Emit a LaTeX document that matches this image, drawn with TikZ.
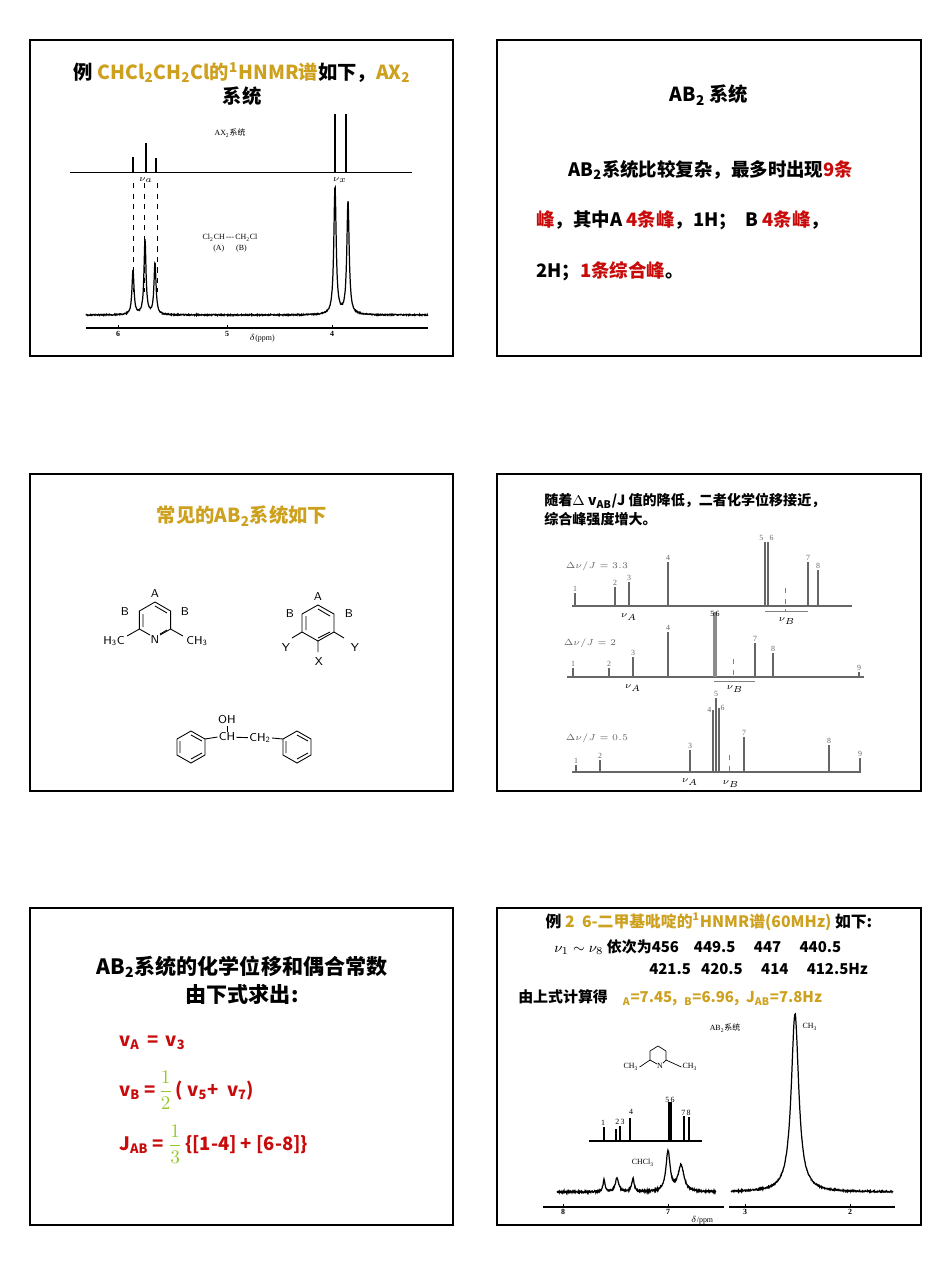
\documentclass[tikz,border=0pt]{standalone}
\usepackage{fontspec}
\setmainfont{Noto Sans CJK SC}
\newfontfamily\serifsmall{Liberation Serif}
\newfontfamily\cjk{Noto Sans CJK SC}
\usetikzlibrary{positioning}
\definecolor{gold}{RGB}{205,160,30}
\definecolor{slidered}{RGB}{200,10,10}
\definecolor{fracgreen}{RGB}{150,200,40}
\tikzset{
  frame/.style={draw, line width=1.2pt},
  title/.style={font=\fontsize{11}{14}\selectfont\bfseries, align=center},
  body/.style={font=\fontsize{10.5}{13}\selectfont\bfseries, anchor=west},
  tiny/.style={font=\serifsmall\fontsize{4.5}{5}\selectfont, inner sep=0.5pt},
  chem/.style={font=\sffamily\fontsize{6.5}{7}\selectfont, inner sep=0.5pt},
  stick/.style={line width=0.6pt},
  graystick/.style={line width=0.8pt, black!60},
  declare function={lor(\x,\c,\h,\w)=\h*\w*\w/((\x-\c)^2+\w*\w);}
}
\begin{document}
\begin{tikzpicture}[x=0.02cm, y=-0.02cm, line width=0.5pt]
\useasboundingbox (0,0) rectangle (950,1265);

% FRAMES
\draw[frame] (30,40) rectangle (453,356);
\draw[frame] (497,40) rectangle (921,356);
\draw[frame] (30,474) rectangle (453,791);
\draw[frame] (497,474) rectangle (921,791);
\draw[frame] (30,908) rectangle (453,1225);
\draw[frame] (497,908) rectangle (921,1225);

% PANEL 1: AX2 spectrum
\node (ttlA) [title] at (242,84) {例\ \textcolor{gold}{CHCl\textsubscript{2}CH\textsubscript{2}Cl的\textsuperscript{1}HNMR谱}如下，\textcolor{gold}{AX\textsubscript{2}}\\系统};
\draw (70,172) -- (412,172);
\foreach \x/\t in {133/157, 146/143, 156/158, 335/114, 346/114}
  \draw[stick] (\x,172) -- (\x,\t);
\node (axlab) [tiny] at (230,133) {AX\textsubscript{2}{\cjk 系统}};
\node (nua) [tiny] at (146,180) {$\nu_a$};
\node (nux) [tiny] at (340,180) {$\nu_x$};
\foreach \x in {133,144,157}
  \draw[dashed, line width=0.4pt] (\x,183) -- (\x,292);
\node (molA) [tiny] at (230,238) {Cl\textsubscript{2}CH\,---\,CH\textsubscript{2}Cl};
\node (molB) [tiny] at (230,249) {(A)\quad\ \ (B)};
\draw[line width=0.7pt] plot[domain=8.6:42.8, samples=900]
  ({10*\x},{315+0.6*rand-lor(\x,13.3,45,0.12)-lor(\x,14.5,75,0.12)-lor(\x,15.5,52,0.12)-lor(\x,33.5,128,0.14)-lor(\x,34.8,113,0.14)});
\draw[line width=0.8pt] (86,328) -- (428,328);
\foreach \x/\l in {118/6, 227/5, 332/4}
  \draw (\x,325) -- (\x,328) node[tiny, below=1pt] {\bfseries\l};
\node (ppmA) [tiny] at (262,338) {$\delta$(ppm)};

% PANEL 2: AB2 text
\node (ttlB) [title] at (709,95) {AB\textsubscript{2} 系统};
\node (lineA) [body] at (562,170) {AB\textsubscript{2}系统比较复杂，最多时出现\textcolor{slidered}{9条}};
\node (lineB) [body] at (530,220) {\textcolor{slidered}{峰}，其中A \textcolor{slidered}{4条峰}，1H；\ \ B \textcolor{slidered}{4条峰}，};
\node (lineC) [body] at (530,271) {2H；\textcolor{slidered}{1条综合峰}。};

% PANEL 3: common AB2 systems
\node (ttlC) [title, text=gold] at (242,516) {常见的AB\textsubscript{2}系统如下};
% pyridine
\draw (150,635) -- (139.4,629) -- (139.4,611) -- (155,602) -- (170.6,611) -- (170.6,629) -- (160,635);
\draw (155,606) -- (167,613) (143,614) -- (143,627) (167,630) -- (160,634);
\node (pyN) [chem] at (155,640) {N};
\draw (139.4,629) -- (127,636);
\draw (170.6,629) -- (183,636);
\node (pyL) [chem] at (114,641) {H\textsubscript{3}C};
\node (pyR) [chem] at (197,641) {CH\textsubscript{3}};
\node (pyA) [chem] at (155,594) {A};
\node (pyB1) [chem] at (125,612) {B};
\node (pyB2) [chem] at (185,612) {B};
% benzene
\draw (318,605) -- (334,614) -- (334,632) -- (318,641) -- (302,632) -- (302,614) -- cycle;
\draw (318,609) -- (330,616) (306,616) -- (306,630) (330,632) -- (318,638);
\draw (302,632) -- (292,638) (334,632) -- (344,638) (318,641) -- (318,652);
\node (bzA) [chem] at (318,597) {A};
\node (bzB1) [chem] at (290,614) {B};
\node (bzB2) [chem] at (349,614) {B};
\node (bzY1) [chem] at (286,648) {Y};
\node (bzY2) [chem] at (355,648) {Y};
\node (bzX) [chem] at (319,662) {X};
% bibenzyl alcohol
\foreach \cx in {191,297} {
  \draw (\cx,731) -- (\cx+14,739) -- (\cx+14,755) -- (\cx,763) -- (\cx-14,755) -- (\cx-14,739) -- cycle;
  \draw (\cx,735) -- (\cx+11,741) (\cx-11,741) -- (\cx-11,753) (\cx+11,753) -- (\cx,759);
}
\node (ohOH) [chem] at (227,720) {OH};
\node (ohCH) [chem] at (227,737) {CH};
\node (ohCH2) [chem] at (260,738) {CH\textsubscript{2}};
\draw (ohOH) -- (ohCH);
\draw (205,739) -- (ohCH.west);
\draw (ohCH) -- (ohCH2);
\draw (ohCH2.east) -- (283,739);

% PANEL 4: stick spectra
\node (ttlD) [font=\fontsize{8}{11}\selectfont\bfseries, align=left, anchor=north west] at (538,487)
  {随着$\Delta$ \textit{v}\textsubscript{AB}/\textit{J} 值的降低，二者化学位移接近，\\综合峰强度增大。};
% row 1
\draw[graystick] (572,606) -- (852,606);
\foreach \x/\t/\l in {575/593/1, 615/587/2, 629/582/3, 668/562/4, 808/562/7, 818/570/8}
  \draw[graystick] (\x,606) -- (\x,\t) node[tiny, above] {\l};
\draw[graystick] (765,606) -- (765,542) node[tiny, above left=0pt] {5};
\draw[graystick] (768,606) -- (768,542) node[tiny, above right=0pt] {6};
\draw[dashed, black!50] (785,588) -- (785,611);
\draw[black!50, line width=0.3pt] (765,611) -- (808,611);
\node (r1a) [tiny] at (629,617) {$\nu_A$};
\node (r1b) [tiny] at (787,621) {$\nu_B$};
\node (r1j) [tiny, text=black!60] at (597,566) {$\Delta\nu/J=3.3$};
% row 2
\draw[graystick] (567,677) -- (864,677);
\foreach \x/\t/\l in {573/668/1, 609/668/2, 633/657/3, 668/632/4, 755/643/7, 773/653/8, 859/672/9}
  \draw[graystick] (\x,677) -- (\x,\t) node[tiny, above] {\l};
\draw[line width=2.5pt, black!45] (715,677) -- (715,612);
\node (r2n) [tiny] at (715,614) {5\,6};
\draw[dashed, black!50] (733,659) -- (733,680);
\draw[black!50, line width=0.3pt] (714,681) -- (755,681);
\node (r2a) [tiny] at (633,688) {$\nu_A$};
\node (r2b) [tiny] at (735,689) {$\nu_B$};
\node (r2j) [tiny, text=black!60] at (590,643) {$\Delta\nu/J=2$};
% row 3
\draw[graystick] (572,772) -- (861,772);
\foreach \x/\t/\l in {576/765/1, 600/760/2, 690/750/3, 744/737/7, 829/745/8, 860/758/9}
  \draw[graystick] (\x,772) -- (\x,\t) node[tiny, above] {\l};
\draw[graystick] (713,772) -- (713,710) node[tiny, left=0pt] {4};
\draw[graystick] (716,772) -- (716,698) node[tiny, above] {5};
\draw[graystick] (719,772) -- (719,708) node[tiny, right=0pt] {6};
\draw[dashed, black!50] (729,755) -- (729,772);
\node (r3a) [tiny] at (690,782) {$\nu_A$};
\node (r3b) [tiny] at (731,784) {$\nu_B$};
\node (r3j) [tiny, text=black!60] at (597,738) {$\Delta\nu/J=0.5$};

% PANEL 5: formulas
\node (ttlE) [title, font=\fontsize{12}{16}\selectfont\bfseries] at (242,980) {AB\textsubscript{2}系统的化学位移和偶合常数\\由下式求出:};
\node (fA) [body, text=slidered] at (113,1043) {\textit{v}\textsubscript{A} \,=\, \textit{v}\textsubscript{3}};
\node (fB) [body, text=slidered] at (113,1090) {\textit{v}\textsubscript{B} =\,\textcolor{fracgreen}{$\displaystyle\frac{1}{2}$}\,(\ \textit{v}\textsubscript{5}+\ \ \textit{v}\textsubscript{7})};
\node (fJ) [body, text=slidered] at (113,1144) {\textit{J}\textsubscript{AB} = \textcolor{fracgreen}{$\displaystyle\frac{1}{3}$}\,\{[1-4] + [6-8]\}};

% PANEL 6: 2,6-lutidine
\node (ttlF) [font=\fontsize{9}{11}\selectfont\bfseries] at (709,922) {例 \textcolor{gold}{2\ \ 6-二甲基吡啶的\textsuperscript{1}HNMR谱(60MHz)} 如下:};
\node (vals1) [font=\fontsize{8.5}{10}\selectfont\bfseries, anchor=west] at (548,947) {$\nu_1\sim\nu_8$ 依次为456\quad 449.5\quad\ 447\quad\ 440.5};
\node (vals2) [font=\fontsize{8.5}{10}\selectfont\bfseries, anchor=west] at (643,969) {421.5\ \ \ 420.5\quad\ 414\quad\ 412.5Hz};
\node (calc) [font=\fontsize{8.5}{10}\selectfont\bfseries, anchor=west] at (512,998) {由上式计算得\quad \textcolor{gold}{\textsubscript{A}=7.45,\ \ \textsubscript{B}=6.96,\ \ \textit{J}\textsubscript{AB}=7.8Hz}};
\node (ab2lab) [tiny] at (725,1028) {AB\textsubscript{2}{\cjk 系统}};
\node (ch3lab) [tiny] at (810,1027) {CH\textsubscript{3}};
% small lutidine
\draw[line width=0.4pt] (657,1064) -- (650,1060) -- (650,1051) -- (658,1046) -- (666,1051) -- (666,1060) -- (663,1063);
\node (lutL) [tiny] at (631,1067) {CH\textsubscript{3}};
\node (lutN) [tiny] at (660,1066) {N};
\node (lutR) [tiny] at (690,1067) {CH\textsubscript{3}};
\draw[line width=0.4pt] (650,1060) -- (lutL.east) (666,1060) -- (lutR.west);
% sticks
\draw[stick] (589,1141) -- (702,1141);
\foreach \x/\t in {604/1127, 616/1129, 620/1126, 630/1118, 669/1102, 671/1102, 684/1116, 689/1117}
  \draw[stick] (\x,1141) -- (\x,\t);
\node (st1) [tiny] at (603,1123) {1};
\node (st23) [tiny] at (620,1122) {2\,3};
\node (st4) [tiny] at (631,1112) {4};
\node (st56) [tiny] at (670,1100) {5\,6};
\node (st78) [tiny] at (686,1113) {7\,8};
\node (chcl3) [tiny] at (643,1163) {CHCl\textsubscript{3}};
\draw[line width=0.7pt] plot[domain=55.7:71.6, samples=600]
  ({10*\x},{1192+0.8*rand-lor(\x,60.4,12,0.12)-lor(\x,61.7,14,0.2)-lor(\x,63.3,13,0.15)-lor(\x,66.8,40,0.25)-lor(\x,68.1,26,0.35)});
\draw[line width=0.7pt] plot[domain=73.1:89.3, samples=500]
  ({10*\x},{1192+0.7*rand-lor(\x,79.5,178,0.45)});
\draw[line width=0.8pt] (543,1207) -- (724,1207) (729,1207) -- (895,1207);
\foreach \x/\l in {563/8, 668/7, 745/3, 850/2}
  \draw (\x,1204) -- (\x,1207) node[tiny, below=0.5pt] {\bfseries\l};
\node (ppmF) [tiny] at (702,1220) {$\delta$/ppm};
\end{tikzpicture}
\end{document}
